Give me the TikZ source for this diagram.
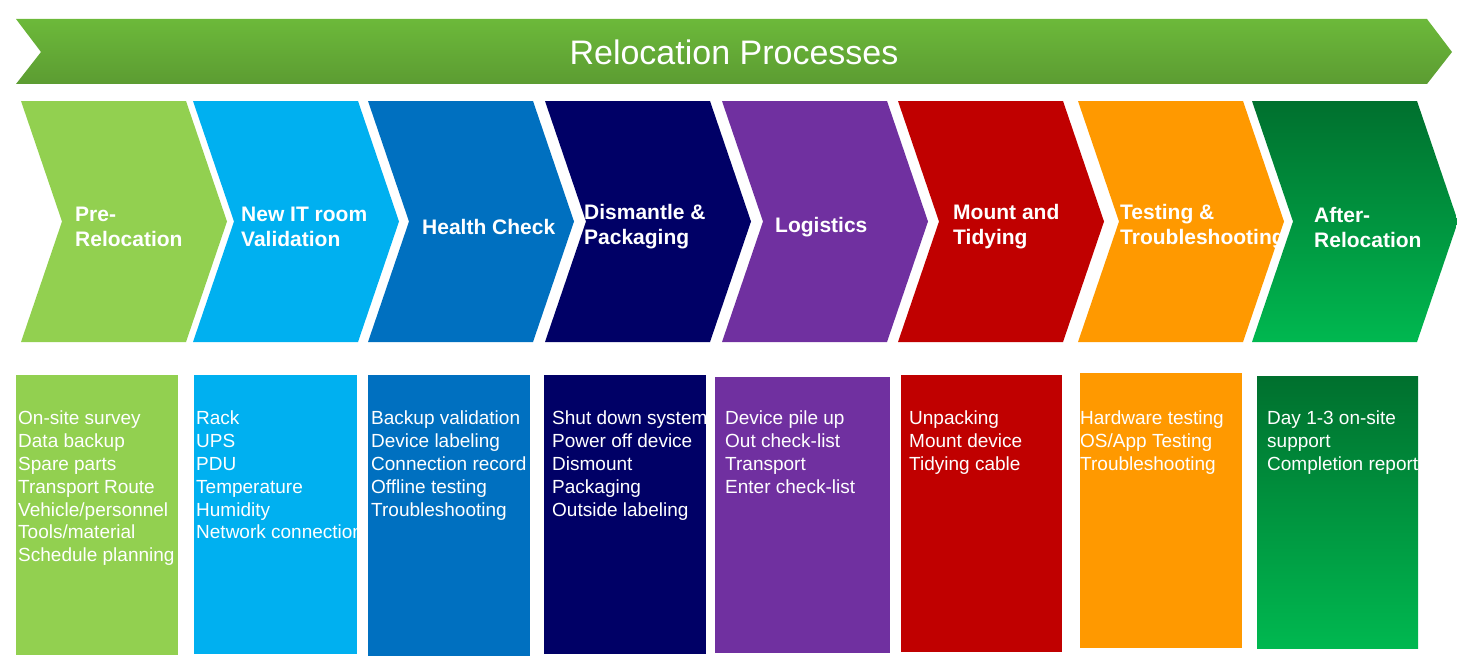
\documentclass[tikz,border=0pt]{standalone}
\usepackage{fontspec}
\setmainfont{Liberation Sans}
\definecolor{bannerTop}{HTML}{6CB93A}
\definecolor{bannerBot}{HTML}{5C9C32}
\definecolor{stepA}{HTML}{92D050}
\definecolor{stepB}{HTML}{00B0F0}
\definecolor{stepC}{HTML}{0070C0}
\definecolor{stepD}{HTML}{000066}
\definecolor{stepE}{HTML}{7030A0}
\definecolor{stepF}{HTML}{C00000}
\definecolor{stepG}{HTML}{FF9900}
\definecolor{stepHtop}{HTML}{00702E}
\definecolor{stepHbot}{HTML}{00B850}
\newcommand{\chevron}[1]{(#1,101) -- ++(165,0) -- ++(41,120.5) -- ++(-41,120.5) -- ++(-165,0) -- ++(41,-120.5) -- cycle}

\begin{document}
\begin{tikzpicture}[x=1pt, y=-1pt, every node/.style={text=white, inner sep=0}]
\tikzset{
  p1/.style={fill=stepA}, p2/.style={fill=stepB}, p3/.style={fill=stepC}, p4/.style={fill=stepD},
  p5/.style={fill=stepE}, p6/.style={fill=stepF}, p7/.style={fill=stepG},
  p8/.style={top color=stepHtop, bottom color=stepHbot},
  title/.style={font=\bfseries\fontsize{21}{25}\selectfont, align=left, anchor=west},
  item/.style={font=\fontsize{19}{22.8}\selectfont, align=left, anchor=north west}
}
\useasboundingbox (0,0) rectangle (1457,661);
% --- banner ---
\path[top color=bannerTop, bottom color=bannerBot] (16,19) -- (1427,19) -- (1452,52) -- (1427,84) -- (16,84) -- (41,52) -- cycle;
\node[font=\fontsize{34}{40}\selectfont] (banner) at (734,52) {Relocation Processes};
% --- chevrons ---
\foreach \n/\x/\tx/\txt in {1/21/75/{Pre-\\Relocation}, 2/193/241/{New IT room\\Validation},
    3/368/422/{Health Check}, 4/545/584/{Dismantle \&\\Packaging}, 5/722/775/{Logistics},
    6/898/953/{Mount and\\Tidying}, 7/1078/1120/{Testing \&\\Troubleshooting}, 8/1252/1314/{After-\\Relocation}} {
  \path[p\n] \chevron{\x};
  \begin{scope}
    \clip \chevron{\x};
    \node[title] (t\n) at (\tx,227) {\txt};
  \end{scope}
}
% --- task boxes ---
\foreach \n/\x/\t/\w/\h/\tx/\txt in {
    1/16/375/162/280/18/{On-site survey\\Data backup\\Spare parts\\Transport Route\\Vehicle/personnel\\Tools/material\\Schedule planning},
    2/194/375/163/279/196/{Rack\\UPS\\PDU\\Temperature\\Humidity\\Network connection},
    3/368/375/162/281/371/{Backup validation\\Device labeling\\Connection record\\Offline testing\\Troubleshooting},
    4/544/375/162/279/552/{Shut down system\\Power off device\\Dismount\\Packaging\\Outside labeling},
    5/715/377/175/276/725/{Device pile up\\Out check-list\\Transport\\Enter check-list},
    6/901/375/161/277/909/{Unpacking\\Mount device\\Tidying cable},
    7/1080/373/162/275/1080/{Hardware testing\\OS/App Testing\\Troubleshooting},
    8/1257/376/161/272/1267/{Day 1-3 on-site\\support\\Completion report}} {
  \node[p\n, anchor=north west, minimum width=\w pt, minimum height=\h pt] (b\n) at (\x,\t) {};
  \begin{scope}
    \clip (b\n.north west) rectangle (b\n.south east);
    \node[item] (i\n) at (\tx,411) {\txt};
  \end{scope}
}
\end{tikzpicture}
\end{document}
